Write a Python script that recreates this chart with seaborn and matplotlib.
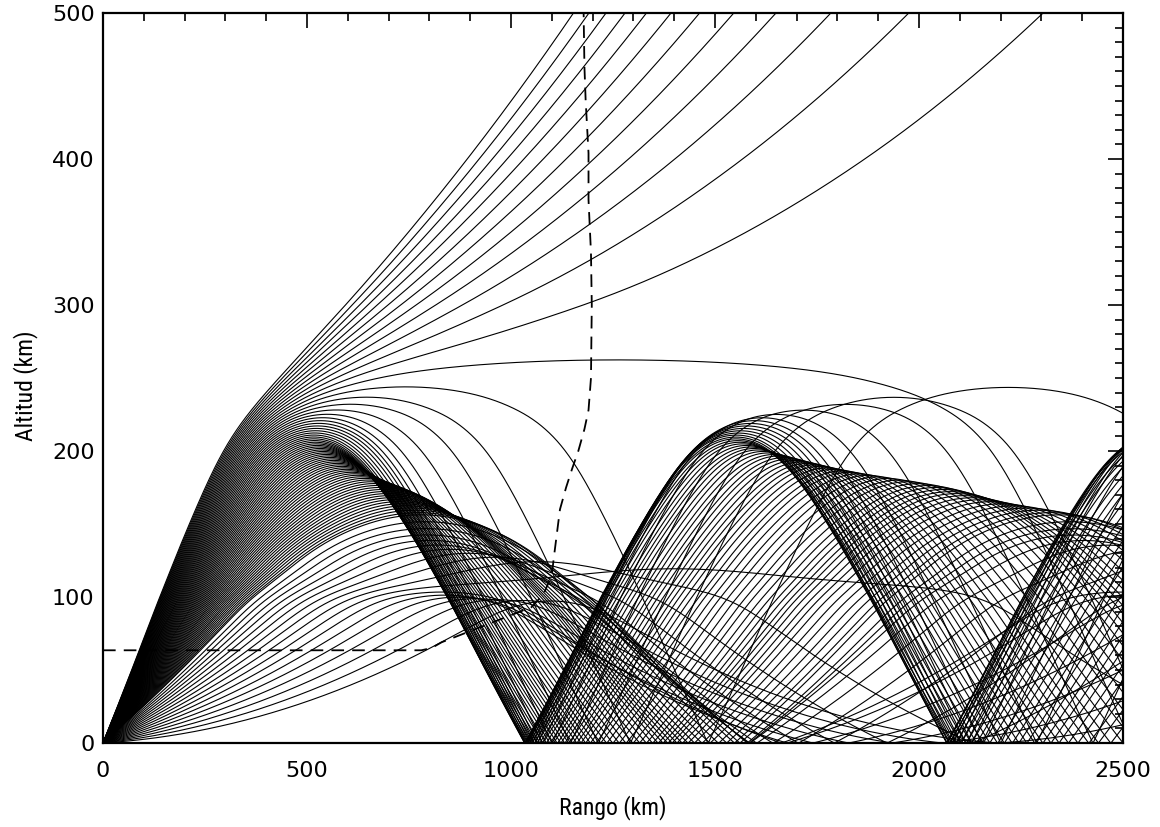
import numpy as np
import pandas as pd
import matplotlib
matplotlib.use("Agg")
import matplotlib.pyplot as plt
import seaborn as sns
from matplotlib.ticker import MultipleLocator

# ---------------- data ----------------
# launch elevation angles of the traced rays (degrees)
ELEV_LOW = [1.0, 1.75, 2.5, 3.25, 4.0, 4.75, 5.5, 6.25, 7.0, 7.75, 8.5, 9.25,
            10.0, 10.75, 11.5, 12.25, 13.0, 13.75]
ELEV_FAN = [14.0, 14.3, 14.6, 14.9, 15.2, 15.5, 15.8, 16.1, 16.4, 16.7, 17.0,
            17.3, 17.6, 17.9, 18.2, 18.5, 18.8, 19.1, 19.4, 19.7, 20.0, 20.3,
            20.6, 20.9, 21.2, 21.5, 21.8, 22.1, 22.4, 22.7, 23.0, 23.3, 23.6,
            23.9, 24.2, 24.5, 24.8, 25.1, 25.4, 25.7, 26.0, 26.3, 26.6, 26.9,
            27.2, 27.5, 27.8, 28.1, 28.4, 28.7, 29.0, 29.3, 29.6, 29.9, 30.2,
            30.5, 30.8, 31.1, 31.4, 31.7, 32.0, 32.3, 32.6, 32.9, 33.2, 33.5,
            33.8, 34.1, 34.4, 34.7, 35.0]
# ionospheric profile used for the ray paths: height (km) vs X = (fp/f)^2
PROFILE_H = [0, 70, 80, 88, 94, 100, 106, 115, 124, 140, 160, 180, 195, 210,
             225, 240, 255, 270, 300, 400, 500, 700]
PROFILE_X = [0.0, 0.0, 0.003, 0.010, 0.022, 0.038, 0.045, 0.045, 0.050, 0.078,
             0.106, 0.150, 0.203, 0.262, 0.301, 0.318, 0.326, 0.330, 0.334,
             0.338, 0.340, 0.335]
# dashed boundary curve (range km, altitude km)
DASH_RANGE = [0, 780, 805, 830, 1050, 1080, 1100, 1105, 1120, 1135, 1150, 1165,
              1180, 1190, 1196, 1198, 1196, 1190, 1190, 1183, 1180, 1178]
DASH_ALT = [63.5, 63.5, 65, 69, 93, 102, 115, 127, 160, 175, 188, 200, 215,
            228, 250, 300, 336, 372, 404, 440, 463, 500]

X_TICKS = [0, 500, 1000, 1500, 2000, 2500]
Y_TICKS = [0, 100, 200, 300, 400, 500]

# ---------------- ray tracing on a spherical Earth ----------------
R_E = 6371.0
hg = np.arange(0.0, 800.5, 0.5)
Xg = np.interp(hg, PROFILE_H, PROFILE_X)
sig = 4.0
kk = np.arange(-4 * sig, 4 * sig + 0.25, 0.5)
wk = np.exp(-0.5 * (kk / sig) ** 2)
wk /= wk.sum()
half = len(kk) // 2
Xs = np.convolve(np.pad(Xg, half, mode="edge"), wk, mode="valid")[:len(hg)]
dXs = np.gradient(Xs, hg)


def deriv(s):
    x, z, px, pz = s
    r = np.hypot(x, z)
    dX = np.interp(r - R_E, hg, dXs)
    return np.array([px, pz, -0.5 * dX * x / r, -0.5 * dX * z / r])


elev = np.radians(np.array(ELEV_LOW + ELEV_FAN))
N = len(elev)
st = np.array([np.zeros(N), np.full(N, R_E), np.cos(elev), np.sin(elev)])
alive = np.ones(N, bool)
dt = 2.0
rows_r, rows_a = [np.zeros(N)], [np.zeros(N)]
for i in range(3200):
    k1 = deriv(st)
    k2 = deriv(st + 0.5 * dt * k1)
    k3 = deriv(st + 0.5 * dt * k2)
    k4 = deriv(st + dt * k3)
    new = st + dt / 6.0 * (k1 + 2 * k2 + 2 * k3 + k4)
    st = np.where(alive, new, st)
    x, z, px, pz = st
    r = np.hypot(x, z)
    below = (r < R_E) & alive
    if below.any():
        ux, uz = x / r, z / r
        pr = px * ux + pz * uz
        refl = below & (pr < 0)
        px = np.where(refl, px - 2 * pr * ux, px)
        pz = np.where(refl, pz - 2 * pr * uz, pz)
        x = np.where(below, x * R_E / r, x)
        z = np.where(below, z * R_E / r, z)
        st = np.array([x, z, px, pz])
        r = np.hypot(x, z)
    rng = R_E * np.arctan2(x, z)
    alt = r - R_E
    rows_r.append(np.where(alive, rng, np.nan))
    rows_a.append(np.where(alive, alt, np.nan))
    alive &= (rng < 2510) & (alt < 510)
    if not alive.any():
        break

RR = np.array(rows_r)
AA = np.array(rows_a)
frames = []
for j in range(N):
    m = ~np.isnan(RR[:, j])
    frames.append(pd.DataFrame({"ray": j, "step": np.arange(m.sum()),
                                "rango": RR[m, j], "alt": AA[m, j]}))
rays = pd.concat(frames, ignore_index=True)
dash = pd.DataFrame({"rango": DASH_RANGE, "alt": DASH_ALT})

# ---------------- plotting ----------------
sns.set_style("white")
plt.rcParams["font.family"] = ["DejaVu Sans"]
plt.rcParams["text.color"] = "black"
plt.rcParams["xtick.color"] = "black"
plt.rcParams["ytick.color"] = "black"
plt.rcParams["axes.labelcolor"] = "black"
fig = plt.figure(figsize=(11.6, 8.27), dpi=100)
ax = fig.add_axes([103 / 1160, 1 - 743 / 827, 1020 / 1160, 730 / 827])

sns.lineplot(data=rays, x="rango", y="alt", units="ray", estimator=None,
             sort=False, color="black", lw=0.8, ax=ax, legend=False)
sns.lineplot(data=dash, x="rango", y="alt", estimator=None, sort=False,
             color="black", lw=1.3, ls=(0, (7, 4.5)), ax=ax, legend=False)

ax.set_xlim(0, 2500)
ax.set_ylim(0, 500)
ax.set_xticks(X_TICKS)
ax.set_yticks(Y_TICKS)
ax.xaxis.set_minor_locator(MultipleLocator(100))
ax.yaxis.set_minor_locator(MultipleLocator(10))
ax.tick_params(which="both", direction="in", top=True, right=True,
               width=1.2, color="black", labelcolor="black")
ax.tick_params(which="major", length=11, labelsize=16)
ax.tick_params(which="minor", length=6)
ax.tick_params(axis="x", which="major", pad=13)
ax.tick_params(axis="y", which="major", pad=6)
for sp in ax.spines.values():
    sp.set_color("black")
    sp.set_linewidth(1.6)

tfont = dict(family=["Roboto Condensed", "DejaVu Sans"], size=17,
             color="black")
ax.set_xlabel("Rango (km)", **tfont)
ax.set_ylabel("Altitud (km)", **tfont)
ax.xaxis.set_label_coords(0.5, -0.072)
ax.yaxis.set_label_coords(-0.064, 0.49)

fig.savefig("out.png", dpi=100, facecolor="white")
